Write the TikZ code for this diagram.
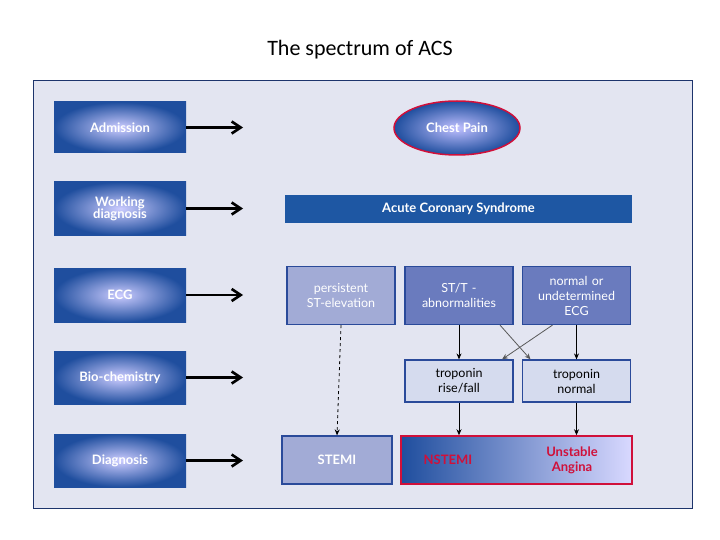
\documentclass[tikz,border=0pt]{standalone}
\usepackage{fontspec}
\setmainfont{Lato}
\newfontfamily\titlefont{Carlito}
\usetikzlibrary{shapes.geometric,arrows.meta}
\definecolor{panel}{HTML}{E3E5F1}
\definecolor{dblue}{HTML}{1F4E9E}
\definecolor{acs}{HTML}{1E57A3}
\definecolor{mblue}{HTML}{6A7BBE}
\definecolor{lblue}{HTML}{A2ABD6}
\definecolor{tblue}{HTML}{D5DBEE}
\definecolor{bord}{HTML}{2A4A9A}
\definecolor{redb}{HTML}{D0103A}
\begin{document}
\begin{tikzpicture}[x=1pt,y=-1pt,
 lbox/.style={draw=none,inner color=blue!20!white,outer color=dblue,minimum width=132pt,text width=120pt,align=center,text=white,font=\bfseries\fontsize{13}{14}\selectfont},
 ebox/.style={draw=bord,line width=1.2pt,minimum width=108pt,minimum height=58pt,text width=100pt,align=center,text=white,font=\fontsize{12.5}{15}\selectfont},
 tbox/.style={draw=bord,line width=1.2pt,fill=tblue,minimum width=108pt,minimum height=42pt,text width=100pt,align=center,font=\fontsize{12.5}{15}\selectfont},
 bigarr/.style={line width=2.6pt,-{Straight Barb[length=9pt,width=12pt]}},
 thin/.style={line width=0.8pt,-{Stealth[length=6pt,width=5pt]}}]
\useasboundingbox (0,0) rectangle (720,540);
\node[font=\titlefont\fontsize{22}{26}\selectfont] (title) at (360,50) {The spectrum of ACS};
\draw[draw=bord!70!black,fill=panel,line width=1pt] (33,81) rectangle (692,508);
% left column
\node[lbox,minimum height=51pt] (adm) at (120,127.5) {Admission};
\node[lbox,minimum height=53pt] (wd) at (120,208.5) {Working\\[-2pt]diagnosis};
\node[lbox,minimum height=54pt] (ecg) at (120,295) {ECG};
\node[lbox,minimum height=53pt] (bio) at (120,377.5) {Bio-chemistry};
\node[lbox,minimum height=53pt] (dia) at (120,460.5) {Diagnosis};
\foreach \n/\y in {adm/127.5,wd/208.5,ecg/295,bio/377.5,dia/460.5}{
 \coordinate (\n e) at (243,\y);
 \draw[bigarr] (\n.east) -- (\n e);}
% right
\node[ellipse,draw=redb,line width=1.5pt,inner color=blue!25!white,outer color=dblue,minimum width=126pt,minimum height=54pt,text=white,font=\bfseries\fontsize{13}{14}\selectfont] (cp) at (457,128) {Chest Pain};
\node[fill=acs,minimum width=347pt,minimum height=28pt,text=white,font=\bfseries\fontsize{13}{14}\selectfont] (acsn) at (458.5,209) {Acute Coronary Syndrome};
\node[ebox,fill=lblue] (pst) at (341,295.5) {persistent\\ST-elevation};
\node[ebox,fill=mblue] (stt) at (459,295.5) {ST/T -\\abnormalities};
\node[ebox,fill=mblue] (nrm) at (576.5,295.5) {normal or\\undetermined\\ECG};
\node[tbox] (tr) at (459,381) {troponin\\rise/fall};
\node[tbox] (tn) at (576.5,381) {troponin\\normal};
\node[draw=bord,line width=1.2pt,fill=lblue,minimum width=110pt,minimum height=48pt,text=white,font=\bfseries\fontsize{13}{14}\selectfont] (stemi) at (337,460) {STEMI};
\node[draw=redb,line width=1.5pt,left color=dblue,right color=blue!15!white,minimum width=231pt,minimum height=48pt] (nsbox) at (516.5,460) {};
\node[text=redb,font=\bfseries\fontsize{13}{14}\selectfont] (ns) at (448,460) {NSTEMI};
\node[text=redb,font=\bfseries\fontsize{13}{15}\selectfont,align=center] (ua) at (572,460) {Unstable\\Angina};
% connectors
\draw[thin,dashed] (pst.south) -- (stemi.north);
\draw[thin] (stt.south) -- (tr.north);
\draw[thin] (nrm.south) -- (tn.north);
\draw[thin,gray!70!black] ([xshift=41pt]stt.south) -- ([xshift=-46pt]tn.north);
\draw[thin,gray!70!black] ([xshift=-24pt]nrm.south) -- ([xshift=43pt]tr.north);
\draw[thin] (tr.south) -- (tr.south |- nsbox.north);
\draw[thin] (tn.south) -- (tn.south |- nsbox.north);
\end{tikzpicture}
\end{document}
